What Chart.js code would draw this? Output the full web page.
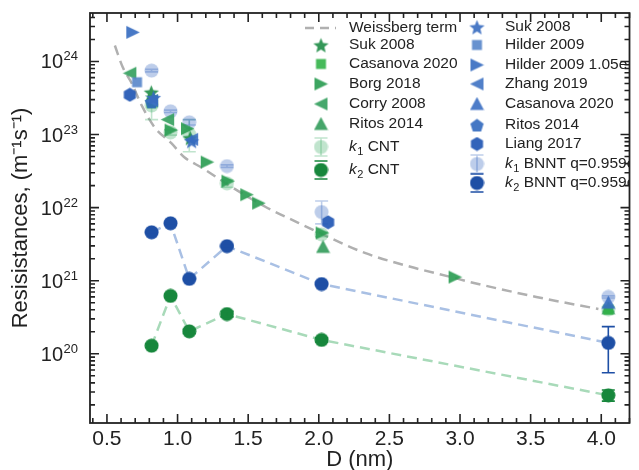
<!DOCTYPE html>
<html>
<head>
<meta charset="utf-8">
<script src="https://cdn.jsdelivr.net/npm/chart.js@4.4.0/dist/chart.umd.min.js"></script>
<style>
html, body { margin: 0; padding: 0; background: #fff; }
#wrap { width: 639px; height: 470px; }
</style>
</head>
<body>
<div id="wrap"><canvas id="chart" width="639" height="470"></canvas></div>
<script>
/*
==================================
    Data
==================================
*/
var xTicks = [0.5, 1.0, 1.5, 2.0, 2.5, 3.0, 3.5, 4.0];
var yDecades = [20, 21, 22, 23, 24];

// Weissberg term curve
var weissD = [0.556, 0.612, 0.676, 0.746, 0.837, 0.956, 1.048, 1.174, 1.385, 1.624, 1.855, 2.017, 2.326, 2.649, 2.93, 3.07, 3.54, 3.98];
var weissR = [1.65e24, 8.3e23, 5.0e23, 2.5e23, 1.26e23, 7.6e22, 4.9e22, 3.5e22, 1.9e22, 1.02e22, 6.2e21, 4.4e21, 2.4e21, 1.55e21, 1.13e21, 9.6e20, 6.0e20, 4.1e20];

// simulated k1 / k2
var kD = [0.816, 0.95, 1.083, 1.35, 2.02, 4.05];
var k1CNT = [2.5e23, 1.07e23, 1.0e23, 2.15e22, 4.3e21, 4.1e20];
var k1CNTlo = [1.6e23, 0.98e23, 5.8e22, 1.9e22, 4.0e21, 3.8e20];
var k1CNThi = [3.4e23, 1.16e23, 1.6e23, 2.4e22, 4.6e21, 4.4e20];
var k2CNT = [1.29e20, 6.2e20, 2.03e20, 3.5e20, 1.55e20, 2.7e19];
var k2CNTlo = [1.22e20, 5.9e20, 1.9e20, 3.2e20, 1.45e20, 2.25e19];
var k2CNThi = [1.36e20, 6.5e20, 2.15e20, 3.8e20, 1.65e20, 3.2e19];
var k1BNNT = [7.5e23, 2.08e23, 1.47e23, 3.7e22, 8.7e21, 6.0e20];
var k1BNNTlo = [7.2e23, 2.0e23, 1.35e23, 3.55e22, 6.0e21, 5.8e20];
var k1BNNThi = [7.8e23, 2.16e23, 1.6e23, 3.85e22, 1.23e22, 6.2e20];
var k2BNNT = [4.6e21, 6.1e21, 1.06e21, 2.97e21, 9.0e20, 1.41e20];
var k2BNNTlo = [4.5e21, 6.0e21, 1.04e21, 2.9e21, 8.8e20, 5.5e19];
var k2BNNThi = [4.7e21, 6.2e21, 1.08e21, 3.05e21, 9.2e20, 2.35e20];

// literature, CNT
var sukCntD = [0.814, 1.09], sukCntR = [3.8e23, 9.0e22];
var casCntD = [0.816, 4.05], casCntR = [2.7e23, 4.0e20];
var borgD = [0.954, 1.07, 1.21, 1.357, 1.49, 1.574, 2.024, 2.965];
var borgR = [1.15e23, 1.2e23, 4.2e22, 2.3e22, 1.5e22, 1.15e22, 4.5e21, 1.12e21];
var corryD = [0.662, 0.93, 0.816], corryR = [6.9e23, 1.6e23, 2.9e23];
var ritosCntD = [2.03, 4.05], ritosCntR = [2.9e21, 4.2e20];

// literature, BNNT
var sukBnD = [0.83, 1.1], sukBnR = [3.2e23, 8.2e22];
var hilderSqD = [0.713], hilderSqR = [5.2e23];
var hilderTriD = [0.683], hilderTriR = [2.5e24];
var zhangD = [0.816, 1.1], zhangR = [2.9e23, 8.6e22];
var casBnD = [4.05], casBnR = [5.0e20];
var ritosBnD = [0.816], ritosBnR = [2.8e23];
var liangD = [0.662, 2.066], liangR = [3.5e23, 6.3e21];

/*
==================================
    Marker images
==================================
*/
function marker(shape, color, size) {
    var c = document.createElement('canvas');
    c.width = size; c.height = size;
    var g = c.getContext('2d');
    var r = size / 2, i, a;
    g.fillStyle = color;
    g.beginPath();
    if (shape === 'circle') {
        g.arc(r, r, r - 0.5, 0, Math.PI * 2);
    } else if (shape === 'square') {
        g.rect(1.5, 1.5, size - 3, size - 3);
    } else if (shape === 'right') {
        g.moveTo(size - 0.5, r); g.lineTo(1, 1); g.lineTo(1, size - 1);
    } else if (shape === 'left') {
        g.moveTo(0.5, r); g.lineTo(size - 1, 1); g.lineTo(size - 1, size - 1);
    } else if (shape === 'up') {
        g.moveTo(r, 0.5); g.lineTo(size - 0.5, size - 1.5); g.lineTo(0.5, size - 1.5);
    } else if (shape === 'star') {
        for (i = 0; i < 10; i++) {
            a = -Math.PI / 2 + i * Math.PI / 5;
            var rr = i % 2 ? r * 0.42 : r - 0.5;
            g.lineTo(r + rr * Math.cos(a), r + 1 + rr * Math.sin(a));
        }
    } else if (shape === 'pentagon') {
        for (i = 0; i < 5; i++) {
            a = -Math.PI / 2 + i * 2 * Math.PI / 5;
            g.lineTo(r + (r - 0.5) * Math.cos(a), r + 0.8 + (r - 0.5) * Math.sin(a));
        }
    } else if (shape === 'hexagon') {
        for (i = 0; i < 6; i++) {
            a = -Math.PI / 2 + i * Math.PI / 3;
            g.lineTo(r + (r - 0.5) * Math.cos(a), r + (r - 0.5) * Math.sin(a));
        }
    }
    g.closePath();
    g.fill();
    return c;
}

var cDarkGreen = '#17873c', cDarkBlue = '#1e4fa5';
var cLightGreen = 'rgba(60,170,100,0.32)', cLightBlue = 'rgba(50,100,190,0.32)';

var mk = {
    sukCnt: marker('star', 'rgba(30,140,70,0.9)', 17),
    casCnt: marker('square', 'rgba(50,178,72,0.9)', 13),
    borg: marker('right', 'rgba(40,155,80,0.9)', 15),
    corry: marker('left', 'rgba(50,158,92,0.9)', 15),
    ritosCnt: marker('up', 'rgba(50,155,90,0.9)', 15),
    k1CNT: marker('circle', cLightGreen, 15),
    k2CNT: marker('circle', cDarkGreen, 15),
    sukBn: marker('star', 'rgba(55,108,192,0.9)', 17),
    hilderSq: marker('square', 'rgba(88,134,202,0.9)', 13),
    hilderTri: marker('right', 'rgba(62,114,195,0.95)', 15),
    zhang: marker('left', 'rgba(62,114,195,0.9)', 15),
    casBn: marker('up', 'rgba(58,110,194,0.9)', 15),
    ritosBn: marker('pentagon', 'rgba(48,104,190,0.9)', 15),
    liang: marker('hexagon', 'rgba(40,92,182,0.95)', 15),
    k1BNNT: marker('circle', cLightBlue, 15),
    k2BNNT: marker('circle', cDarkBlue, 15)
};

function pts(xs, ys) {
    return xs.map(function (x, i) { return { x: x, y: ys[i] }; });
}
function scatterSet(label, xs, ys, img, extra) {
    var d = { label: label, data: pts(xs, ys), pointStyle: img, pointRadius: 7, showLine: false };
    for (var k in extra) d[k] = extra[k];
    return d;
}

/*
==================================
    Plugins
==================================
*/
var errorBars = {
    id: 'errorBars',
    afterDatasetDraw: function (chart, args) {
        var ds = chart.data.datasets[args.index];
        if (!ds.errLo) return;
        var ctx = chart.ctx, y = chart.scales.y;
        ctx.save();
        ctx.strokeStyle = ds.errColor;
        ctx.lineWidth = 1.6;
        args.meta.data.forEach(function (p, i) {
            var yl = y.getPixelForValue(ds.errLo[i]), yh = y.getPixelForValue(ds.errHi[i]);
            ctx.beginPath();
            ctx.moveTo(p.x, yl); ctx.lineTo(p.x, yh);
            ctx.moveTo(p.x - 6.5, yl); ctx.lineTo(p.x + 6.5, yl);
            ctx.moveTo(p.x - 6.5, yh); ctx.lineTo(p.x + 6.5, yh);
            ctx.stroke();
        });
        ctx.restore();
    }
};

var frame = {
    id: 'frame',
    afterDraw: function (chart) {
        var ctx = chart.ctx, a = chart.chartArea, x = chart.scales.x, y = chart.scales.y;
        ctx.save();
        ctx.strokeStyle = '#222';
        ctx.lineWidth = 1.6;
        ctx.beginPath();
        // x ticks, top and bottom, pointing in
        for (var t = 4; t <= 42; t++) {
            var v = t / 10, px = x.getPixelForValue(v);
            if (px < a.left || px > a.right) continue;
            var len = (t % 5 === 0) ? 9 : 5;
            ctx.moveTo(px, a.bottom); ctx.lineTo(px, a.bottom - len);
            ctx.moveTo(px, a.top); ctx.lineTo(px, a.top + len);
        }
        // y ticks, log, left and right
        for (var d = 19; d <= 24; d++) {
            for (var m = 1; m <= 9; m++) {
                var py = y.getPixelForValue(m * Math.pow(10, d));
                if (py < a.top || py > a.bottom) continue;
                var l = m === 1 ? 9 : 5;
                ctx.moveTo(a.left, py); ctx.lineTo(a.left + l, py);
                ctx.moveTo(a.right, py); ctx.lineTo(a.right - l, py);
            }
        }
        ctx.stroke();
        ctx.lineWidth = 1.8;
        ctx.strokeRect(a.left, a.top, a.right - a.left, a.bottom - a.top);

        // y tick labels 10^n
        ctx.fillStyle = '#222';
        ctx.textAlign = 'right';
        ctx.textBaseline = 'alphabetic';
        yDecades.forEach(function (n) {
            var py = y.getPixelForValue(Math.pow(10, n));
            ctx.font = '13px "Liberation Sans", Arial, sans-serif';
            var ew = ctx.measureText(String(n)).width;
            ctx.fillText(String(n), 78, py - 1);
            ctx.font = '20px "Liberation Sans", Arial, sans-serif';
            ctx.fillText('10', 78 - ew - 0.5, py + 7);
        });
        ctx.restore();
    }
};

var legendCol1 = [
    { kind: 'line', text: 'Weissberg term', y: 28 },
    { img: mk.sukCnt, text: 'Suk 2008', y: 45 },
    { img: mk.casCnt, text: 'Casanova 2020', y: 64 },
    { img: mk.borg, text: 'Borg 2018', y: 84 },
    { img: mk.corry, text: 'Corry 2008', y: 104 },
    { img: mk.ritosCnt, text: 'Ritos 2014', y: 124 },
    { img: mk.k1CNT, k: '1', text: ' CNT', y: 147, err: cLightGreen, bar: true },
    { img: mk.k2CNT, k: '2', text: ' CNT', y: 170, err: cDarkGreen }
];
var legendCol2 = [
    { img: mk.sukBn, text: 'Suk 2008', y: 27 },
    { img: mk.hilderSq, text: 'Hilder 2009', y: 45 },
    { img: mk.hilderTri, text: 'Hilder 2009 1.05e', y: 65 },
    { img: mk.zhang, text: 'Zhang 2019', y: 84 },
    { img: mk.casBn, text: 'Casanova 2020', y: 104 },
    { img: mk.ritosBn, text: 'Ritos 2014', y: 125 },
    { img: mk.liang, text: 'Liang 2017', y: 144 },
    { img: mk.k1BNNT, k: '1', text: ' BNNT q=0.959e', y: 164, err: cLightBlue, bar: true },
    { img: mk.k2BNNT, k: '2', text: ' BNNT q=0.959e', y: 183, err: cDarkBlue }
];

var legendBox = {
    id: 'legendBox',
    afterDraw: function (chart) {
        var ctx = chart.ctx, a = chart.chartArea;
        ctx.save();
        ctx.beginPath();
        ctx.rect(a.left, a.top, a.right - a.left, a.bottom - a.top);
        ctx.clip();
        function col(items, mx, tx) {
            items.forEach(function (it) {
                if (it.kind === 'line') {
                    ctx.strokeStyle = '#b0b0b0';
                    ctx.lineWidth = 2.5;
                    ctx.setLineDash([9, 6]);
                    ctx.beginPath();
                    ctx.moveTo(mx - 16, it.y); ctx.lineTo(mx + 15, it.y);
                    ctx.stroke();
                    ctx.setLineDash([]);
                } else {
                    ctx.drawImage(it.img, mx - it.img.width / 2, it.y - it.img.height / 2);
                    if (it.err) {
                        ctx.strokeStyle = it.err;
                        ctx.lineWidth = 1.6;
                        ctx.beginPath();
                        if (it.bar) { ctx.moveTo(mx, it.y - 9); ctx.lineTo(mx, it.y + 9); }
                        ctx.moveTo(mx - 6.5, it.y - 9); ctx.lineTo(mx + 6.5, it.y - 9);
                        ctx.moveTo(mx - 6.5, it.y + 9); ctx.lineTo(mx + 6.5, it.y + 9);
                        ctx.stroke();
                    }
                }
                ctx.fillStyle = '#222';
                ctx.textAlign = 'left';
                ctx.textBaseline = 'middle';
                var x = tx;
                if (it.k) {
                    ctx.font = 'italic 15.5px "Liberation Sans", Arial, sans-serif';
                    ctx.fillText('k', x, it.y);
                    x += ctx.measureText('k').width + 0.5;
                    ctx.font = '11px "Liberation Sans", Arial, sans-serif';
                    ctx.fillText(it.k, x, it.y + 5);
                    x += ctx.measureText(it.k).width;
                }
                ctx.font = '15.5px "Liberation Sans", Arial, sans-serif';
                ctx.fillText(it.text, x, it.y);
            });
        }
        col(legendCol1, 321, 349);
        col(legendCol2, 477, 505);
        ctx.restore();
    }
};

/*
==================================
    Chart
==================================
*/
Chart.defaults.font.family = '"Liberation Sans", Arial, sans-serif';
Chart.defaults.color = '#222';

var datasets = [
    {
        label: 'k2 BNNT', data: pts(kD, k2BNNT), showLine: true,
        borderColor: '#a9c0e4', borderWidth: 2.5, borderDash: [10, 6],
        pointStyle: mk.k2BNNT, pointRadius: 7,
        errLo: k2BNNTlo, errHi: k2BNNThi, errColor: cDarkBlue
    },
    {
        label: 'k2 CNT', data: pts(kD, k2CNT), showLine: true,
        borderColor: '#a8dab9', borderWidth: 2.5, borderDash: [10, 6],
        pointStyle: mk.k2CNT, pointRadius: 7,
        errLo: k2CNTlo, errHi: k2CNThi, errColor: cDarkGreen
    },
    scatterSet('Liang 2017', liangD, liangR, mk.liang),
    scatterSet('Suk 2008 BNNT', sukBnD, sukBnR, mk.sukBn),
    scatterSet('Zhang 2019', zhangD, zhangR, mk.zhang),
    scatterSet('Suk 2008', sukCntD, sukCntR, mk.sukCnt),
    scatterSet('Ritos 2014 BNNT', ritosBnD, ritosBnR, mk.ritosBn),
    scatterSet('Casanova 2020 BNNT', casBnD, casBnR, mk.casBn),
    scatterSet('Casanova 2020', casCntD, casCntR, mk.casCnt),
    scatterSet('Hilder 2009', hilderSqD, hilderSqR, mk.hilderSq),
    scatterSet('Hilder 2009 1.05e', hilderTriD, hilderTriR, mk.hilderTri),
    scatterSet('Borg 2018', borgD, borgR, mk.borg),
    scatterSet('Corry 2008', corryD, corryR, mk.corry),
    scatterSet('Ritos 2014', ritosCntD, ritosCntR, mk.ritosCnt),
    scatterSet('k1 BNNT', kD, k1BNNT, mk.k1BNNT, { errLo: k1BNNTlo, errHi: k1BNNThi, errColor: cLightBlue }),
    scatterSet('k1 CNT', kD, k1CNT, mk.k1CNT, { errLo: k1CNTlo, errHi: k1CNThi, errColor: cLightGreen }),
    {
        label: 'Weissberg term', data: pts(weissD, weissR), showLine: true,
        borderColor: '#b0b0b0', borderWidth: 2.5, borderDash: [10, 6],
        pointRadius: 0, cubicInterpolationMode: 'monotone'
    }
];

var chart = new Chart(document.getElementById('chart'), {
    type: 'scatter',
    data: { datasets: datasets },
    options: {
        responsive: false,
        animation: false,
        layout: { padding: { top: 13, right: 7, left: 0, bottom: 0 } },
        plugins: { legend: { display: false }, tooltip: { enabled: false } },
        scales: {
            x: {
                type: 'linear', min: 0.38, max: 4.2,
                grid: { display: false, drawTicks: false },
                border: { display: false },
                afterBuildTicks: function (s) { s.ticks = xTicks.map(function (v) { return { value: v }; }); },
                afterFit: function (s) { s.height = 47; },
                ticks: {
                    font: { size: 21 }, color: '#222', padding: 4, maxRotation: 0, autoSkip: false,
                    callback: function (v) { return Number(v).toFixed(1); }
                },
                title: { display: true, text: 'D (nm)', font: { size: 22, lineHeight: 1.0 }, color: '#222', padding: { top: 0, bottom: -1 } }
            },
            y: {
                type: 'logarithmic', min: 1.13e19, max: 4.6e24,
                grid: { display: false, drawTicks: false },
                border: { display: false },
                ticks: { display: false },
                afterFit: function (s) { s.width = 90; },
                title: { display: true, text: 'Resisistances, (m\u207B\u00B9s\u207B\u00B9)', font: { size: 22 }, color: '#222', padding: { top: 8, bottom: 0 } }
            }
        }
    },
    plugins: [errorBars, frame, legendBox]
});
</script>
</body>
</html>
